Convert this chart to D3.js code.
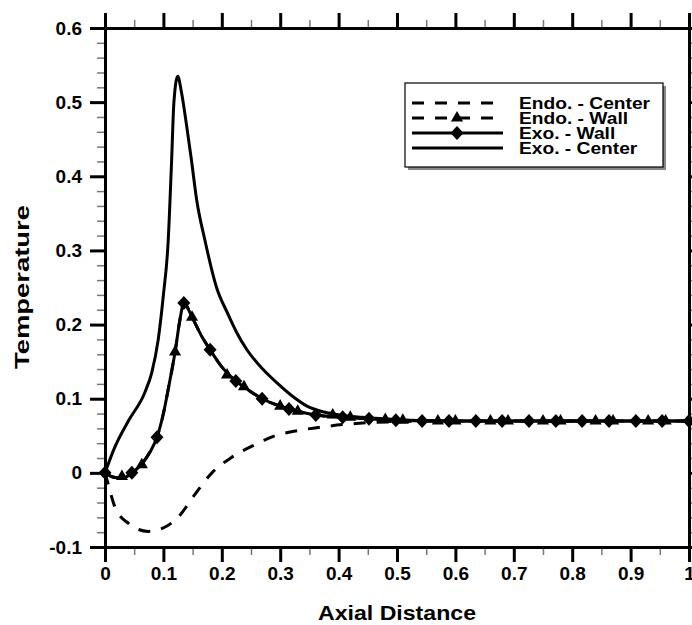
<!DOCTYPE html>
<html>
<head>
<meta charset="utf-8">
<title>Temperature vs Axial Distance</title>
<script src="https://cdn.jsdelivr.net/npm/d3@7"></script>
<style>
  body { margin: 0; background: #fff; }
  text { font-family: "Liberation Sans", Arial, sans-serif; font-weight: bold; }
</style>
</head>
<body>
<div id="chart"></div>
<script>
// ---- data ----
var xTicks = [0, 0.1, 0.2, 0.3, 0.4, 0.5, 0.6, 0.7, 0.8, 0.9, 1];
var xTickLabels = ["0", "0.1", "0.2", "0.3", "0.4", "0.5", "0.6", "0.7", "0.8", "0.9", "1"];
var yTicks = [-0.1, 0, 0.1, 0.2, 0.3, 0.4, 0.5, 0.6];
var yTickLabels = ["-0.1", "0", "0.1", "0.2", "0.3", "0.4", "0.5", "0.6"];

// Endo. - Center (dashed)
var endoCenterX = [0, 0.005, 0.017, 0.04, 0.074, 0.098, 0.125, 0.154, 0.183, 0.217, 0.257, 0.291, 0.33, 0.373, 0.42, 0.459, 0.5, 0.6, 0.8, 1.0];
var endoCenterY = [0, -0.014, -0.046, -0.068, -0.079, -0.075, -0.06, -0.029, 0.0, 0.021, 0.038, 0.05, 0.057, 0.062, 0.066, 0.068, 0.069, 0.07, 0.07, 0.07];

// Endo. - Wall (dashed, triangles)
var endoWallX = [0, 0.015, 0.03, 0.046, 0.063, 0.077, 0.089, 0.1, 0.11, 0.12, 0.128, 0.135, 0.149, 0.165, 0.18, 0.2, 0.224, 0.245, 0.269, 0.3, 0.33, 0.361, 0.407, 0.45, 0.5, 0.6, 0.8, 1.0];
var endoWallY = [0, -0.006, -0.007, 0.0, 0.012, 0.028, 0.048, 0.08, 0.12, 0.163, 0.205, 0.229, 0.21, 0.185, 0.166, 0.143, 0.124, 0.112, 0.1, 0.09, 0.083, 0.078, 0.075, 0.073, 0.071, 0.07, 0.07, 0.07];
var triX = [0.029, 0.063, 0.12, 0.149, 0.209, 0.238, 0.30, 0.33, 0.39, 0.42, 0.48, 0.51, 0.57, 0.60, 0.66, 0.69, 0.75, 0.78, 0.84, 0.87, 0.93, 0.96];
var triY = [-0.005, 0.011, 0.163, 0.21, 0.132, 0.116, 0.09, 0.083, 0.078, 0.075, 0.072, 0.071, 0.07, 0.07, 0.07, 0.07, 0.07, 0.07, 0.07, 0.07, 0.07, 0.07];

// Exo. - Wall (solid, diamonds)
var exoWallX = [0, 0.015, 0.03, 0.046, 0.063, 0.077, 0.089, 0.1, 0.11, 0.12, 0.128, 0.135, 0.149, 0.165, 0.18, 0.2, 0.224, 0.245, 0.269, 0.3, 0.33, 0.361, 0.407, 0.45, 0.5, 0.6, 0.8, 1.0];
var exoWallY = [0, -0.006, -0.007, 0.0, 0.012, 0.028, 0.048, 0.08, 0.12, 0.163, 0.205, 0.229, 0.21, 0.185, 0.166, 0.143, 0.124, 0.112, 0.1, 0.09, 0.083, 0.078, 0.075, 0.073, 0.071, 0.07, 0.07, 0.07];
var diaX = [0, 0.046, 0.089, 0.135, 0.18, 0.224, 0.269, 0.315, 0.361, 0.407, 0.452, 0.498, 0.543, 0.589, 0.635, 0.68, 0.726, 0.772, 0.817, 0.863, 0.909, 0.954, 1.0];
var diaY = [0, 0.0, 0.048, 0.229, 0.166, 0.124, 0.1, 0.086, 0.078, 0.075, 0.073, 0.071, 0.07, 0.07, 0.07, 0.07, 0.07, 0.07, 0.07, 0.07, 0.07, 0.07, 0.07];

// Exo. - Center (solid)
var exoCenterX = [0, 0.017, 0.04, 0.068, 0.08, 0.091, 0.1, 0.108, 0.114, 0.118, 0.1245, 0.131, 0.14, 0.148, 0.157, 0.171, 0.191, 0.21, 0.225, 0.243, 0.27, 0.295, 0.32, 0.346, 0.375, 0.402, 0.44, 0.476, 0.52, 0.6, 0.8, 1.0];
var exoCenterY = [0, 0.035, 0.07, 0.108, 0.135, 0.179, 0.24, 0.31, 0.42, 0.5, 0.535, 0.513, 0.467, 0.422, 0.368, 0.314, 0.25, 0.215, 0.19, 0.166, 0.14, 0.121, 0.104, 0.09, 0.082, 0.078, 0.075, 0.073, 0.071, 0.07, 0.07, 0.07];

var legendNames = ["Endo. - Center", "Endo. - Wall", "Exo. - Wall", "Exo. - Center"];

(function () {
    // ---- layout ----
    var w = 692, h = 625;
    var pLeft = 105, pRight = 689, pTop = 28, pBottom = 547;

    var svg = d3.select("#chart").append("svg")
        .attr("width", w)
        .attr("height", h);

    var x = d3.scaleLinear().domain([0, 1]).range([pLeft, pRight]);
    var y = d3.scaleLinear().domain([-0.1, 0.6]).range([pBottom, pTop]);

    var xMinor = d3.range(0, 1.0001, 0.05);
    var yMinor = d3.range(-0.1, 0.6001, 0.02);

    // minor ticks first (gray), then the majors on top
    function minor(axis, tr) {
        var g = svg.append("g").attr("transform", tr).call(axis);
        g.select(".domain").remove();
        g.selectAll("line").attr("stroke", "#777").attr("stroke-width", 1.5);
        g.selectAll("text").remove();
    }
    minor(d3.axisBottom(x).tickValues(xMinor).tickSize(8).tickFormat(""), "translate(0," + pBottom + ")");
    minor(d3.axisTop(x).tickValues(xMinor).tickSize(8).tickFormat(""), "translate(0," + pTop + ")");
    minor(d3.axisLeft(y).tickValues(yMinor).tickSize(8).tickFormat(""), "translate(" + pLeft + ",0)");
    minor(d3.axisRight(y).tickValues(yMinor).tickSize(8).tickFormat(""), "translate(" + pRight + ",0)");

    function major(axis, tr) {
        var g = svg.append("g").attr("transform", tr).call(axis);
        g.select(".domain").attr("stroke-width", 3);
        g.selectAll("line").attr("stroke-width", 3);
        g.selectAll("text")
            .attr("font-family", "'Liberation Sans', Arial, sans-serif")
            .attr("font-weight", "bold")
            .attr("font-size", 19)
            .attr("fill", "#000");
        return g;
    }
    major(d3.axisBottom(x).tickValues(xTicks).tickSize(15).tickSizeOuter(0).tickPadding(5)
        .tickFormat(function (d, i) { return xTickLabels[i]; }), "translate(0," + pBottom + ")");
    major(d3.axisTop(x).tickValues(xTicks).tickSize(15).tickSizeOuter(0).tickFormat(""), "translate(0," + pTop + ")");
    major(d3.axisLeft(y).tickValues(yTicks).tickSize(15).tickSizeOuter(0).tickPadding(8)
        .tickFormat(function (d, i) { return yTickLabels[i]; }), "translate(" + pLeft + ",0)");
    major(d3.axisRight(y).tickValues(yTicks).tickSize(8).tickSizeOuter(0).tickFormat(""), "translate(" + pRight + ",0)");

    // ---- curves ----
    var line = d3.line()
        .x(function (d) { return x(d[0]); })
        .y(function (d) { return y(d[1]); })
        .curve(d3.curveMonotoneX);

    function pairs(xs, ys) { return xs.map(function (v, i) { return [v, ys[i]]; }); }

    var dash = "12,11";
    svg.append("path").datum(pairs(endoCenterX, endoCenterY))
        .attr("d", line).attr("fill", "none").attr("stroke", "#000")
        .attr("stroke-width", 3).attr("stroke-dasharray", dash);
    svg.append("path").datum(pairs(endoWallX, endoWallY))
        .attr("d", line).attr("fill", "none").attr("stroke", "#000")
        .attr("stroke-width", 3).attr("stroke-dasharray", dash);
    svg.append("path").datum(pairs(exoWallX, exoWallY))
        .attr("d", line).attr("fill", "none").attr("stroke", "#000")
        .attr("stroke-width", 3);
    svg.append("path").datum(pairs(exoCenterX, exoCenterY))
        .attr("d", line).attr("fill", "none").attr("stroke", "#000")
        .attr("stroke-width", 3);

    var triangle = d3.symbol().type(d3.symbolTriangle).size(64);
    var diamond = "M0,-7L6.5,0L0,7L-6.5,0Z";

    svg.append("g").selectAll("path")
        .data(pairs(triX, triY))
        .enter().append("path")
        .attr("d", triangle)
        .attr("transform", function (d) { return "translate(" + x(d[0]) + "," + y(d[1]) + ")"; })
        .attr("fill", "#000");
    svg.append("g").selectAll("path")
        .data(pairs(diaX, diaY))
        .enter().append("path")
        .attr("d", diamond)
        .attr("transform", function (d) { return "translate(" + x(d[0]) + "," + y(d[1]) + ")"; })
        .attr("fill", "#000");

    // ---- legend ----
    var lg = svg.append("g");
    lg.append("rect").attr("x", 408).attr("y", 86).attr("width", 258).attr("height", 84).attr("fill", "#888");
    lg.append("rect").attr("x", 405).attr("y", 83).attr("width", 258).attr("height", 84)
        .attr("fill", "#fff").attr("stroke", "#000").attr("stroke-width", 1.2);

    var rowY = [103, 118, 133, 148];
    var lineDash = [dash, dash, null, null];
    var markers = [null, triangle, diamond, null];
    legendNames.forEach(function (name, i) {
        lg.append("line")
            .attr("x1", 412).attr("x2", 503)
            .attr("y1", rowY[i]).attr("y2", rowY[i])
            .attr("stroke", "#000").attr("stroke-width", 3)
            .attr("stroke-dasharray", lineDash[i]);
        if (markers[i]) {
            lg.append("path")
                .attr("d", markers[i])
                .attr("transform", "translate(457," + rowY[i] + ")")
                .attr("fill", "#000");
        }
        lg.append("text")
            .attr("transform", "translate(519," + (rowY[i] + 6) + ") scale(1.2,1)")
            .attr("font-size", 16)
            .text(name);
    });

    // ---- axis titles ----
    svg.append("text")
        .attr("x", 397).attr("y", 620)
        .attr("text-anchor", "middle")
        .attr("font-size", 21)
        .attr("textLength", 158)
        .attr("lengthAdjust", "spacingAndGlyphs")
        .text("Axial Distance");
    svg.append("text")
        .attr("transform", "translate(29,287) rotate(-90)")
        .attr("text-anchor", "middle")
        .attr("font-size", 21)
        .attr("textLength", 164)
        .attr("lengthAdjust", "spacingAndGlyphs")
        .text("Temperature");
})();
</script>
</body>
</html>
